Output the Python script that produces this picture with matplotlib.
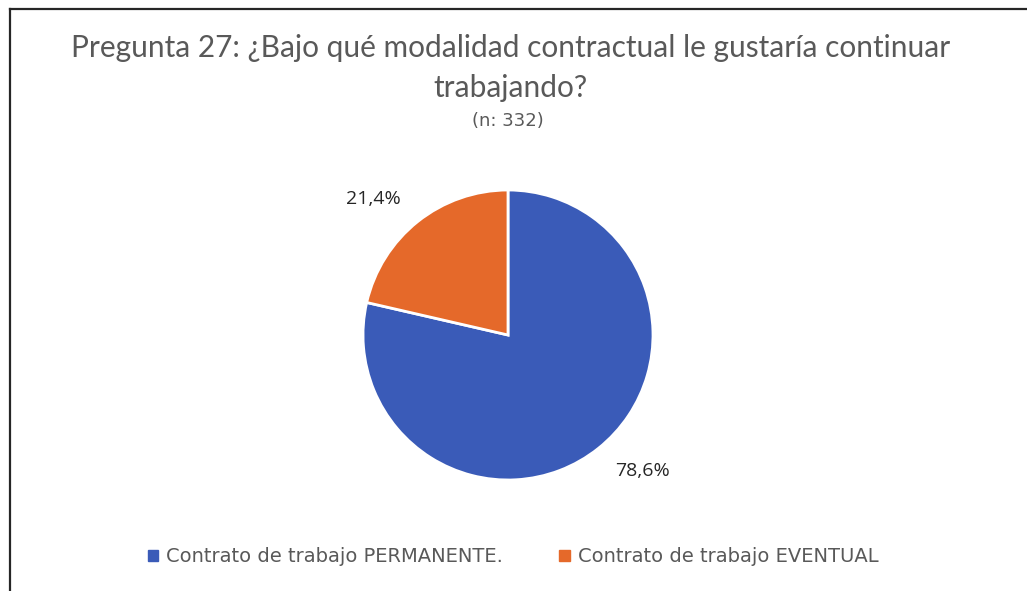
import numpy as np
import matplotlib
matplotlib.use("Agg")
import matplotlib.pyplot as plt
from matplotlib.lines import Line2D
from matplotlib.patches import Rectangle

categories = ["Contrato de trabajo PERMANENTE.", "Contrato de trabajo EVENTUAL"]
values = [78.6, 21.4]
colors = ["#3A5BB8", "#E5692A"]
title_l1 = "Pregunta 27: ¿Bajo qué modalidad contractual le gustaría continuar"
title_l2 = "trabajando?"
subtitle = "(n: 332)"

W, H = 1027, 591
fig = plt.figure(figsize=(W / 100, H / 100), dpi=100)
fig.patch.set_facecolor("white")

# border (partially cropped chart frame)
fig.add_artist(Line2D([10 / W, 10 / W], [0, 1 - 9 / H], color="#262626", lw=1.6, transform=fig.transFigure))
fig.add_artist(Line2D([10 / W, 1], [1 - 9 / H, 1 - 9 / H], color="#262626", lw=1.6, transform=fig.transFigure))

cx, cy, r = 508, 335, 145
ax = fig.add_axes([(cx - r) / W, (H - cy - r) / H, 2 * r / W, 2 * r / H])
wedges, _ = ax.pie(values, colors=colors, startangle=90, counterclock=False,
                   wedgeprops=dict(edgecolor="white", linewidth=2))
ax.set_xlim(-1, 1)
ax.set_ylim(-1, 1)
ax.set_aspect("equal")
ax.axis("off")

for w, v in zip(wedges, values):
    mid = np.deg2rad((w.theta1 + w.theta2) / 2 + 6)
    d = 1.32
    ax.text(d * np.cos(mid), d * np.sin(mid), f"{v:.1f}".replace(".", ",") + "%",
            ha="center", va="center", fontsize=14, color="#262626", family="Open Sans")

fig.text(511 / W, 1 - 48 / H, title_l1, ha="center", va="center", fontsize=21.5, color="#595959", family="Lato")
fig.text(511 / W, 1 - 88 / H, title_l2, ha="center", va="center", fontsize=21.5, color="#595959", family="Lato")
fig.text(508 / W, 1 - 121 / H, subtitle, ha="center", va="center", fontsize=13, color="#595959", family="DejaVu Sans")

handles = [Rectangle((0, 0), 1, 1, color=c) for c in colors]
leg = fig.legend(handles, categories, loc="center", bbox_to_anchor=(513 / W, 1 - 557 / H), ncol=2,
                 frameon=False, handlelength=0.55, handleheight=0.55, handletextpad=0.4,
                 columnspacing=2.9, prop=dict(family="DejaVu Sans", size=14))
for t in leg.get_texts():
    t.set_color("#595959")

fig.savefig("out.png", dpi=100, facecolor="white")
